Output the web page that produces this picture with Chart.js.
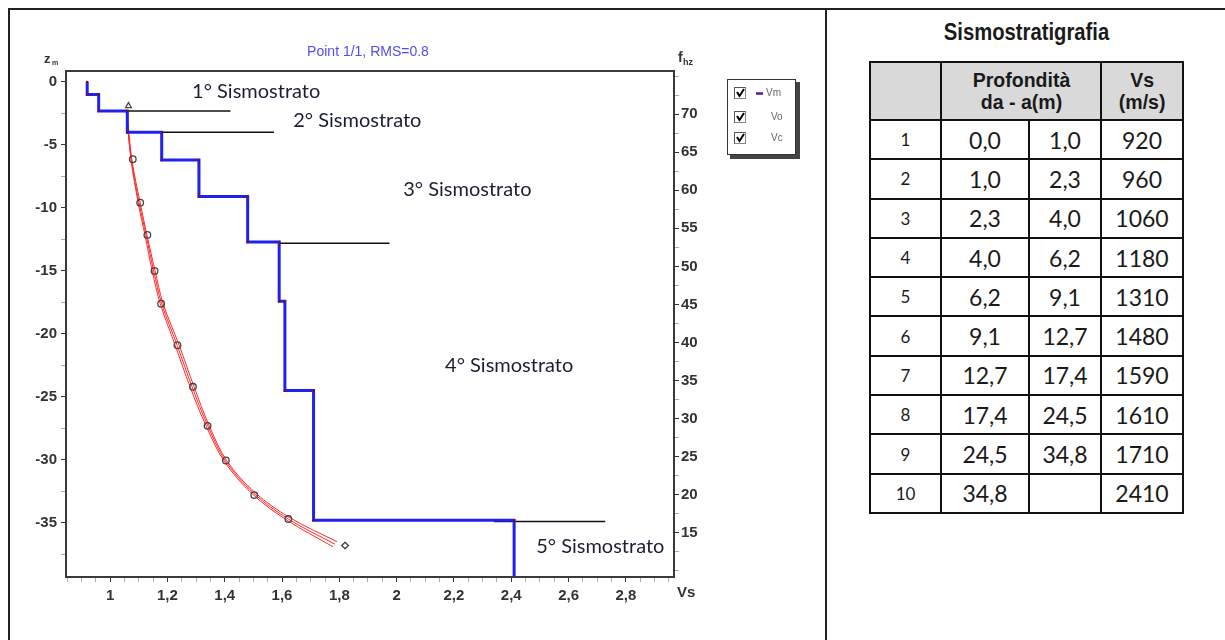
<!DOCTYPE html>
<html><head><meta charset="utf-8">
<script src="https://cdn.jsdelivr.net/npm/chart.js@4.4.1/dist/chart.umd.min.js"></script>
<style>
html,body{margin:0;padding:0;background:#fff;width:1225px;height:640px;overflow:hidden;position:relative;}
#frameTop{position:absolute;left:8px;top:8px;width:1217px;height:2px;background:#222;}
#frameLeft{position:absolute;left:8px;top:8px;width:2px;height:632px;background:#222;}
#frameMid{position:absolute;left:825px;top:8px;width:2px;height:632px;background:#222;}
#chart{position:absolute;left:0;top:0;}
#tblTitle{position:absolute;left:869px;width:315px;top:19px;text-align:center;font:bold 23px Arial,sans-serif;color:#1a1a1a;transform:scaleX(0.88);transform-origin:50% 50%;}
#tbl{position:absolute;left:869px;top:61px;border-collapse:collapse;table-layout:fixed;}
#tbl td,#tbl th{border:2px solid #111;text-align:center;padding:0;color:#1a1a1a;}
#tbl th{background:#d9d9d9;font:bold 21px Arial,sans-serif;line-height:22px;height:56px;}
#tbl th span{display:inline-block;transform:scaleX(0.93);}
#tbl td{font:23px Lato,"Open Sans",sans-serif;height:37.3px;}
#tbl td.n{font-size:17px;}
</style></head>
<body>
<div id="frameTop"></div><div id="frameLeft"></div><div id="frameMid"></div>
<canvas id="chart" width="826" height="640"></canvas>
<div id="tblTitle">Sismostratigrafia</div>
<table id="tbl">
<colgroup><col style="width:71px"><col style="width:88px"><col style="width:72px"><col style="width:82px"></colgroup>
<thead><tr><th></th><th colspan="2"><span>Profondità<br>da - a(m)</span></th><th><span>Vs<br>(m/s)</span></th></tr></thead>
<tbody id="tbody"></tbody>
</table>
<script>
// ---------- DATA ----------
const layerNo = [1,2,3,4,5,6,7,8,9,10];
const layerTop = [0.0,1.0,2.3,4.0,6.2,9.1,12.7,17.4,24.5,34.8];
const layerBottom = [1.0,2.3,4.0,6.2,9.1,12.7,17.4,24.5,34.8,null];
const vsMs = [920,960,1060,1180,1310,1480,1590,1610,1710,2410];

// observed points (Vo), km/s vs depth
const voVs = [1.064,1.079,1.105,1.130,1.155,1.178,1.235,1.289,1.340,1.404,1.503,1.622,1.820];
const voDepth = [-1.9,-6.13,-9.58,-12.14,-15.0,-17.6,-20.9,-24.2,-27.3,-30.05,-32.8,-34.7,-36.8];

// computed curves (Vc)
const vcAVs = [1.056,1.073,1.098,1.122,1.147,1.175,1.227,1.279,1.335,1.398,1.496,1.618,1.778];
const vcADepth = [-2.38,-6.19,-9.6,-12.2,-15.0,-17.6,-20.9,-24.2,-27.3,-30.1,-32.7,-34.8,-36.9];
const vcBVs = [1.059,1.076,1.105,1.129,1.157,1.185,1.241,1.293,1.346,1.408,1.506,1.628,1.792];
const vcBDepth = [-2.38,-6.19,-9.6,-12.2,-15.0,-17.6,-20.9,-24.2,-27.3,-30.1,-32.6,-34.6,-36.5];
const vcCVs = [1.057,1.074,1.101,1.126,1.152,1.180,1.234,1.286,1.341,1.403,1.501,1.622,1.785];
const vcCDepth = [-2.38,-6.19,-9.6,-12.2,-15.0,-17.6,-20.9,-24.2,-27.3,-30.1,-32.65,-34.7,-36.7];

// stratum boundary markers
const boundaryDepth = [-2.3,-4.0,-12.8,-34.9];
const boundaryFrom = [1.045,1.18,1.59,2.34];
const boundaryTo = [1.42,1.572,1.975,2.728];

const stratoLabels = ['1° Sismostrato','2° Sismostrato','3° Sismostrato','4° Sismostrato','5° Sismostrato'];

const xMajorTicks = [1,1.2,1.4,1.6,1.8,2,2.2,2.4,2.6,2.8];
const yMajorTicks = [0,-5,-10,-15,-20,-25,-30,-35];
const fMajorTicks = [15,20,25,30,35,40,45,50,55,60,65,70];

// ---------- TABLE ----------
const fmt1 = v => v==null ? '' : v.toFixed(1).replace('.',',');
const tb = document.getElementById('tbody');
layerNo.forEach((n,i)=>{
  const tr=document.createElement('tr');
  tr.innerHTML='<td class="n">'+n+'</td><td>'+fmt1(layerTop[i])+'</td><td>'+fmt1(layerBottom[i])+'</td><td>'+vsMs[i]+'</td>';
  tb.appendChild(tr);
});

// ---------- CHART ----------
const X_MIN=0.846, X_MAX=2.968, Y_MIN=-39.3, Y_MAX=0.87, F_MIN=9.2, F_MAX=75.67;

const vmPts=[];
vsMs.forEach((v,i)=>{
  const vk=v/1000;
  vmPts.push({x:vk,y:-layerTop[i]});
  vmPts.push({x:vk,y:layerBottom[i]==null?Y_MIN-1:-layerBottom[i]});
});
const pts=(xs,ys)=>xs.map((x,i)=>({x:x,y:ys[i]}));

const boundarySets = boundaryDepth.map((d,i)=>({
  data:[{x:boundaryFrom[i],y:d},{x:boundaryTo[i],y:d}],
  showLine:true,borderColor:'#111',borderWidth:1.5,pointRadius:0,order:2
}));

const redStyle={showLine:true,borderColor:'#ff2a2a',borderWidth:1,pointRadius:0,tension:0.35,order:3};

const isMaj=(arr,v)=>arr.some(m=>Math.abs(m-v)<1e-6);
function ticksFrom(a,b,step){const t=[];for(let v=Math.ceil(a/step-1e-9)*step;v<=b+1e-9;v+=step){t.push({value:Math.round(v*1000)/1000});}return t;}

const decor={
  id:'decor',
  afterDatasetsDraw(chart){
    const ctx=chart.ctx,xs=chart.scales.x,ys=chart.scales.y;
    ctx.save();
    ctx.fillStyle='#1c1f33';
    ctx.font='20px Lato, sans-serif';
    ctx.textBaseline='middle';ctx.textAlign='left';
    const pos=[[1.286,-0.8],[1.639,-3.1],[2.023,-8.57],[2.169,-22.5],[2.487,-36.9]];
    stratoLabels.forEach((t,i)=>ctx.fillText(t,xs.getPixelForValue(pos[i][0]),ys.getPixelForValue(pos[i][1])));
    ctx.restore();
  },
  afterDraw(chart){
    const ctx=chart.ctx,a=chart.chartArea;
    ctx.save();
    ctx.strokeStyle='#3a3a3a';ctx.lineWidth=2;
    ctx.strokeRect(a.left,a.top,a.right-a.left,a.bottom-a.top);
    // title
    ctx.fillStyle='#4f4ff0';ctx.font='14px Arial, sans-serif';ctx.textAlign='center';ctx.textBaseline='middle';
    ctx.fillText('Point 1/1, RMS=0.8',368,52);
    // axis labels
    ctx.fillStyle='#333';ctx.textAlign='left';ctx.textBaseline='alphabetic';
    ctx.font='bold 13px Arial, sans-serif';ctx.fillText('z',44,63);
    ctx.font='bold 7px Arial, sans-serif';ctx.fillText('m',52,65);
    ctx.font='bold 14px Arial, sans-serif';ctx.fillText('f',678,62);
    ctx.font='bold 9px Arial, sans-serif';ctx.fillText('hz',683,65);
    ctx.font='bold 15px Arial, sans-serif';ctx.fillText('Vs',677,597);
    // legend box
    ctx.fillStyle='#444';ctx.fillRect(730,82,70,77);
    ctx.fillStyle='#fff';ctx.fillRect(727,79,69,76);
    ctx.strokeStyle='#333';ctx.lineWidth=1;ctx.strokeRect(727.5,79.5,68,75);
    const rows=[93,117,138];
    rows.forEach(y=>{
      ctx.fillStyle='#fff';ctx.fillRect(734,y-6,12,12);
      ctx.strokeStyle='#888';ctx.lineWidth=1;ctx.strokeRect(734.5,y-5.5,11,11);
      ctx.strokeStyle='#555';ctx.beginPath();ctx.moveTo(734.5,y+5.5);ctx.lineTo(734.5,y-5.5);ctx.lineTo(745.5,y-5.5);ctx.stroke();
      ctx.strokeStyle='#000';ctx.lineWidth=2;ctx.beginPath();ctx.moveTo(737,y-1);ctx.lineTo(739.5,y+3);ctx.lineTo(744,y-4);ctx.stroke();
    });
    ctx.strokeStyle='#4b1a9a';ctx.lineWidth=2.5;ctx.beginPath();ctx.moveTo(756,rows[0]+0.5);ctx.lineTo(763,rows[0]+0.5);ctx.stroke();
    ctx.fillStyle='#666';ctx.font='10px Arial, sans-serif';ctx.textBaseline='middle';
    ctx.fillText('Vm',766,rows[0]);ctx.fillText('Vo',771,rows[1]);ctx.fillText('Vc',771,rows[2]);
    ctx.restore();
  }
};

const tickFont={family:'Arial',weight:'bold',size:15};
new Chart(document.getElementById('chart'),{
  type:'scatter',
  data:{datasets:[
    {label:'Vm',data:vmPts,showLine:true,borderColor:'#2020f2',borderWidth:3,pointRadius:1.6,pointStyle:'rect',pointBackgroundColor:'#7a1020',pointBorderColor:'#7a1020',pointBorderWidth:0,order:1},
    ...boundarySets,
    Object.assign({label:'Vc',data:pts(vcAVs,vcADepth)},redStyle),
    Object.assign({label:'Vc2',data:pts(vcBVs,vcBDepth)},redStyle),
    Object.assign({label:'Vc3',data:pts(vcCVs,vcCDepth)},redStyle),
    {label:'Vo',data:pts(voVs,voDepth),showLine:false,pointRadius:3.3,
     pointStyle:voVs.map((v,i)=>i===0?'triangle':(i===voVs.length-1?'rectRot':'circle')),
     pointBackgroundColor:'rgba(255,255,255,0)',pointBorderColor:'#444',pointBorderWidth:1.3,order:0}
  ]},
  options:{
    responsive:false,animation:false,
    layout:{padding:{left:0,top:71,right:112,bottom:33}},
    plugins:{legend:{display:false},tooltip:{enabled:false}},
    scales:{
      x:{type:'linear',position:'bottom',min:X_MIN,max:X_MAX,
        afterBuildTicks:s=>{s.ticks=ticksFrom(X_MIN,X_MAX,0.05);},
        afterFit:s=>{s.height=30;},
        border:{display:false},
        grid:{drawOnChartArea:false,drawTicks:true,tickLength:5,tickColor:c=>isMaj(xMajorTicks,c.tick.value)?'#333':'#aaa',tickWidth:1},
        ticks:{autoSkip:false,maxRotation:0,padding:5,color:'#333',font:tickFont,
          callback:v=>isMaj(xMajorTicks,v)?String(Math.round(v*10)/10).replace('.',','):''}},
      y:{type:'linear',position:'left',min:Y_MIN,max:Y_MAX,
        afterBuildTicks:s=>{s.ticks=ticksFrom(Y_MIN,Y_MAX,2.5);},
        afterFit:s=>{s.width=66;},
        border:{display:false},
        grid:{drawOnChartArea:false,drawTicks:true,tickLength:5,tickColor:c=>isMaj(yMajorTicks,c.tick.value)?'#333':'#aaa',tickWidth:1},
        ticks:{autoSkip:false,padding:4,color:'#333',font:tickFont,
          callback:v=>isMaj(yMajorTicks,v)?String(Math.round(v)):''}},
      yf:{type:'linear',position:'right',min:F_MIN,max:F_MAX,
        afterBuildTicks:s=>{s.ticks=ticksFrom(F_MIN,F_MAX,2.5);},
        afterFit:s=>{s.width=40;},
        border:{display:false},
        grid:{drawOnChartArea:false,drawTicks:true,tickLength:5,tickColor:c=>isMaj(fMajorTicks,c.tick.value)?'#333':'#aaa',tickWidth:1},
        ticks:{autoSkip:false,padding:2,color:'#333',font:tickFont,
          callback:v=>isMaj(fMajorTicks,v)?String(Math.round(v)):''}}
    }
  },
  plugins:[decor]
});
</script>
</body></html>
